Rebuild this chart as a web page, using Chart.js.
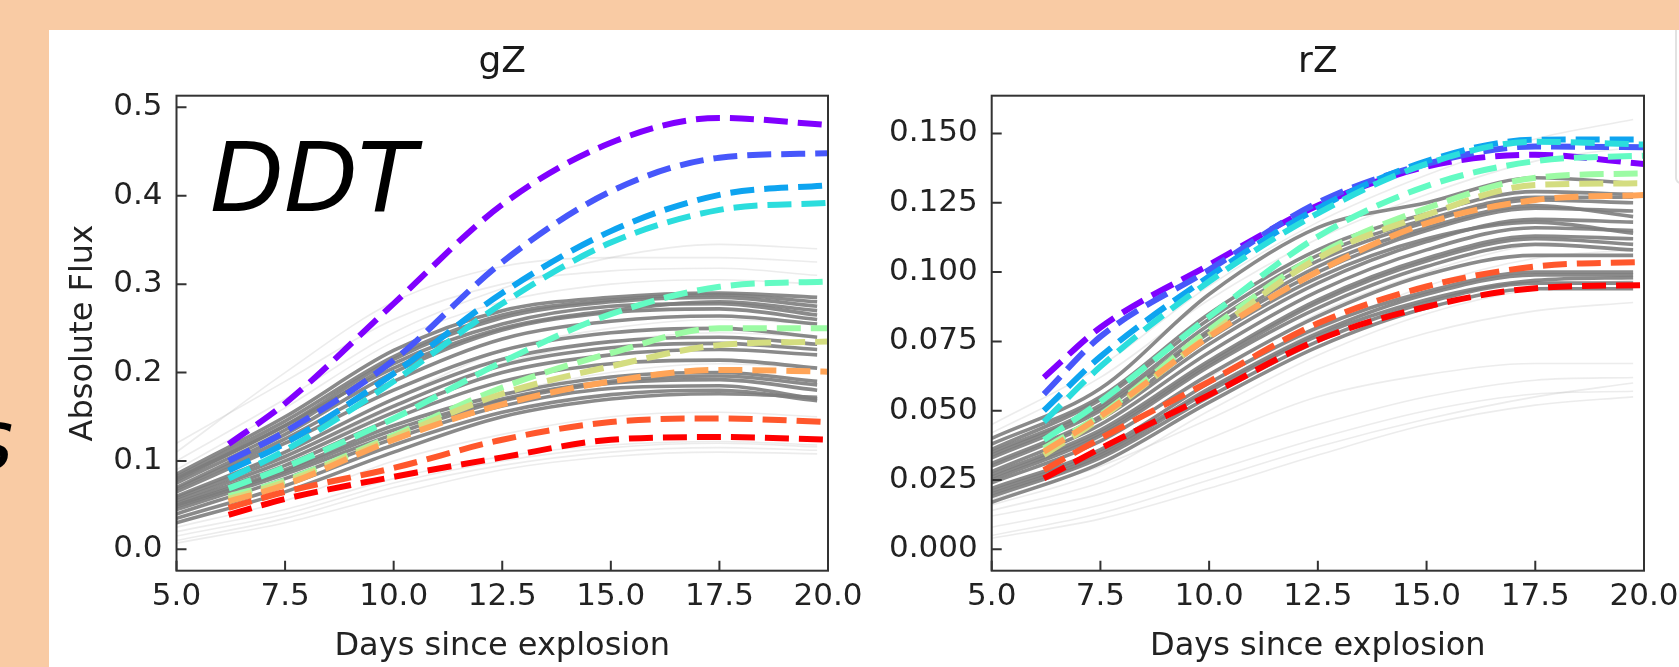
<!DOCTYPE html>
<html>
<head>
<meta charset="utf-8">
<script src="https://cdn.jsdelivr.net/npm/chart.js@4.4.0/dist/chart.umd.min.js"></script>
<style>
  html, body { margin: 0; padding: 0; }
  body { width: 1679px; height: 667px; background: #f9cba4; position: relative; overflow: hidden; font-family: 'DejaVu Sans'; }
  #panel { position: absolute; left: 49px; top: 30px; width: 1630px; height: 637px; background: #fff; overflow: hidden; }
  #legendEdge { position: absolute; left: 1626px; top: -10px; width: 40px; height: 160px; border: 2px solid #e2e2e2; border-radius: 6px; }
  .box { position: absolute; top: 0; height: 667px; }
  #gBox { left: 0; width: 900px; }
  #rBox { left: 850px; width: 829px; }
  #ddt { position: absolute; left: 210px; top: 130px; font: italic 96px/96px 'DejaVu Sans'; color: #000; }
  #cut { position: absolute; left: -31px; top: 398px; font: italic 85px/85px 'DejaVu Sans'; color: #000; }
</style>
</head>
<body>
<div id="panel"><div id="legendEdge"></div></div>
<div class="box" id="gBox"><canvas id="gChart"></canvas></div>
<div class="box" id="rBox"><canvas id="rChart"></canvas></div>
<div id="ddt">DDT</div>
<div id="cut">s</div>

<script>
// x values
const dayGray  = [5, 7.5, 10, 12.5, 15, 17.5, 19.75];
const dayModel = [6.2, 7.5, 10, 12.5, 15, 17.5, 20];
const dayTicks = [5, 7.5, 10, 12.5, 15, 17.5, 20];

// tick values
const gTicks = [0, 0.1, 0.2, 0.3, 0.4, 0.5];
const rTicks = [0, 0.025, 0.05, 0.075, 0.1, 0.125, 0.15];

// rainbow colours of the model curves
const modelColors = ['#8000ff', '#4757fb', '#0ea4f0', '#2bdddd', '#63fbc3', '#9cfba4', '#d4dd80', '#ffa457', '#ff572c', '#ff0000'];

// gZ model curves (dashed)
const gModels = [
  [0.119, 0.165, 0.278, 0.390, 0.460, 0.488, 0.480],
  [0.100, 0.133, 0.214, 0.325, 0.405, 0.443, 0.448],
  [0.089, 0.120, 0.199, 0.290, 0.360, 0.401, 0.412],
  [0.080, 0.112, 0.190, 0.278, 0.347, 0.384, 0.392],
  [0.069, 0.093, 0.148, 0.212, 0.266, 0.297, 0.303],
  [0.060, 0.078, 0.129, 0.183, 0.222, 0.250, 0.250],
  [0.057, 0.076, 0.127, 0.176, 0.207, 0.231, 0.235],
  [0.054, 0.073, 0.124, 0.164, 0.190, 0.203, 0.201],
  [0.047, 0.065, 0.092, 0.124, 0.144, 0.148, 0.144],
  [0.039, 0.057, 0.082, 0.104, 0.124, 0.127, 0.124]
];

// gZ observed light curves, dense dark bundle
const gDark = [
  [0.085, 0.150, 0.225, 0.270, 0.285, 0.290, 0.285],
  [0.080, 0.140, 0.215, 0.262, 0.280, 0.285, 0.275],
  [0.075, 0.135, 0.210, 0.255, 0.275, 0.278, 0.265],
  [0.070, 0.130, 0.200, 0.248, 0.268, 0.272, 0.260],
  [0.078, 0.140, 0.205, 0.250, 0.270, 0.280, 0.270],
  [0.065, 0.120, 0.180, 0.225, 0.245, 0.250, 0.240],
  [0.060, 0.110, 0.170, 0.215, 0.235, 0.240, 0.232],
  [0.055, 0.100, 0.155, 0.200, 0.220, 0.226, 0.220],
  [0.050, 0.090, 0.140, 0.175, 0.195, 0.200, 0.190],
  [0.045, 0.085, 0.130, 0.168, 0.188, 0.192, 0.180],
  [0.040, 0.080, 0.125, 0.162, 0.182, 0.185, 0.170],
  [0.035, 0.072, 0.118, 0.155, 0.175, 0.180, 0.168],
  [0.048, 0.088, 0.135, 0.170, 0.190, 0.196, 0.186],
  [0.030, 0.065, 0.110, 0.150, 0.170, 0.176, 0.172],
  [0.068, 0.125, 0.190, 0.238, 0.258, 0.264, 0.255],
  [0.058, 0.105, 0.162, 0.208, 0.228, 0.233, 0.226],
  [0.052, 0.095, 0.148, 0.190, 0.210, 0.214, 0.205],
  [0.082, 0.145, 0.218, 0.265, 0.282, 0.288, 0.280]
];

// gZ faint curves
const gLight = [
  [0.120, 0.190, 0.260, 0.300, 0.315, 0.318, 0.310],
  [0.100, 0.170, 0.245, 0.295, 0.330, 0.345, 0.340],
  [0.090, 0.160, 0.235, 0.280, 0.300, 0.305, 0.300],
  [0.020, 0.045, 0.080, 0.105, 0.118, 0.122, 0.118],
  [0.010, 0.035, 0.070, 0.095, 0.110, 0.115, 0.112],
  [0.015, 0.040, 0.075, 0.100, 0.115, 0.120, 0.116],
  [0.007, 0.030, 0.062, 0.090, 0.105, 0.110, 0.108],
  [0.050, 0.100, 0.160, 0.210, 0.235, 0.245, 0.240],
  [0.060, 0.110, 0.170, 0.225, 0.250, 0.260, 0.255],
  [0.040, 0.080, 0.130, 0.175, 0.200, 0.210, 0.205],
  [0.025, 0.055, 0.100, 0.130, 0.150, 0.155, 0.150],
  [0.110, 0.200, 0.280, 0.320, 0.330, 0.330, 0.325]
];

// rZ model curves (dashed)
const rModels = [
  [0.0620, 0.0800, 0.1026, 0.1240, 0.1380, 0.1423, 0.1390],
  [0.0560, 0.0767, 0.1008, 0.1250, 0.1390, 0.1453, 0.1450],
  [0.0500, 0.0695, 0.0984, 0.1230, 0.1400, 0.1477, 0.1478],
  [0.0460, 0.0659, 0.0966, 0.1212, 0.1390, 0.1470, 0.1460],
  [0.0394, 0.0533, 0.0839, 0.1128, 0.1310, 0.1400, 0.1420],
  [0.0364, 0.0485, 0.0791, 0.1062, 0.1230, 0.1340, 0.1356],
  [0.0340, 0.0473, 0.0773, 0.1050, 0.1206, 0.1314, 0.1320],
  [0.0352, 0.0480, 0.0767, 0.1002, 0.1176, 0.1260, 0.1278],
  [0.0286, 0.0400, 0.0605, 0.0815, 0.0948, 0.1020, 0.1037],
  [0.0256, 0.0364, 0.0557, 0.0755, 0.0875, 0.0942, 0.0953]
];

// rZ observed light curves, dense dark bundle
const rDark = [
  [0.040, 0.058, 0.092, 0.116, 0.125, 0.134, 0.132],
  [0.038, 0.055, 0.085, 0.108, 0.121, 0.129, 0.128],
  [0.035, 0.052, 0.081, 0.104, 0.118, 0.126, 0.125],
  [0.033, 0.050, 0.078, 0.100, 0.115, 0.123, 0.122],
  [0.030, 0.047, 0.074, 0.096, 0.111, 0.119, 0.118],
  [0.028, 0.045, 0.071, 0.093, 0.108, 0.116, 0.115],
  [0.027, 0.043, 0.068, 0.090, 0.105, 0.113, 0.112],
  [0.025, 0.041, 0.066, 0.087, 0.102, 0.110, 0.108],
  [0.024, 0.039, 0.063, 0.084, 0.099, 0.106, 0.106],
  [0.022, 0.036, 0.060, 0.080, 0.093, 0.100, 0.100],
  [0.020, 0.034, 0.057, 0.077, 0.090, 0.097, 0.098],
  [0.019, 0.033, 0.055, 0.075, 0.089, 0.096, 0.096],
  [0.017, 0.031, 0.053, 0.073, 0.087, 0.094, 0.094],
  [0.031, 0.048, 0.076, 0.098, 0.112, 0.118, 0.114],
  [0.036, 0.054, 0.083, 0.106, 0.119, 0.127, 0.127],
  [0.026, 0.042, 0.067, 0.089, 0.104, 0.112, 0.110],
  [0.021, 0.035, 0.058, 0.078, 0.092, 0.099, 0.099],
  [0.034, 0.051, 0.079, 0.102, 0.116, 0.124, 0.120]
];

// rZ faint curves
const rLight = [
  [0.012, 0.020, 0.033, 0.045, 0.055, 0.061, 0.062],
  [0.008, 0.016, 0.028, 0.040, 0.050, 0.056, 0.057],
  [0.005, 0.013, 0.025, 0.037, 0.047, 0.055, 0.060],
  [0.014, 0.024, 0.040, 0.055, 0.063, 0.067, 0.067],
  [0.004, 0.011, 0.022, 0.034, 0.045, 0.052, 0.055],
  [0.018, 0.030, 0.047, 0.065, 0.078, 0.086, 0.089],
  [0.045, 0.066, 0.095, 0.118, 0.135, 0.148, 0.155],
  [0.042, 0.062, 0.090, 0.112, 0.128, 0.140, 0.145],
  [0.025, 0.040, 0.062, 0.085, 0.100, 0.110, 0.112],
  [0.020, 0.034, 0.058, 0.079, 0.095, 0.105, 0.108],
  [0.016, 0.028, 0.050, 0.070, 0.085, 0.094, 0.097]
];

Chart.defaults.font.family = "'DejaVu Sans'";

function toPoints(days, vals){ return vals.map((v, i) => ({x: days[i], y: v})); }

function makeSets(models, dark, light){
  var sets = [];
  models.forEach((vals, i) => sets.push({
    data: toPoints(dayModel, vals), borderColor: modelColors[i],
    borderWidth: 6, borderDash: [24, 10], order: 20 - i
  }));
  dark.forEach(vals => sets.push({
    data: toPoints(dayGray, vals), borderColor: 'rgba(125,125,125,0.9)', borderWidth: 3.6, order: 50
  }));
  light.forEach(vals => sets.push({
    data: toPoints(dayGray, vals), borderColor: 'rgba(150,150,150,0.18)', borderWidth: 1.6, order: 80
  }));
  return sets;
}

// box around the axes + inward ticks
const frame = {
  id: 'frame',
  afterDatasetsDraw(chart){
    const {ctx, chartArea: a, scales} = chart;
    ctx.save();
    ctx.strokeStyle = '#333';
    ctx.lineWidth = 2;
    ctx.strokeRect(a.left, a.top, a.right - a.left, a.bottom - a.top);
    ctx.beginPath();
    scales.x.ticks.forEach(t => {
      const px = scales.x.getPixelForValue(t.value);
      ctx.moveTo(px, a.bottom); ctx.lineTo(px, a.bottom - 10);
    });
    scales.y.ticks.forEach(t => {
      const py = scales.y.getPixelForValue(t.value);
      ctx.moveTo(a.left, py); ctx.lineTo(a.left + 10, py);
    });
    ctx.stroke();
    ctx.restore();
  }
};

function makeChart(id, models, dark, light, cfg){
  return new Chart(document.getElementById(id), {
    type: 'line',
    data: {datasets: makeSets(models, dark, light)},
    options: {
      animation: false, responsive: true, maintainAspectRatio: false,
      layout: {padding: {left: cfg.padLeft, right: cfg.padRight, top: 0, bottom: 4}},
      elements: {point: {radius: 0}, line: {cubicInterpolationMode: 'monotone', fill: false}},
      plugins: {
        legend: {display: false}, tooltip: {enabled: false},
        title: {display: true, text: cfg.title, fullSize: false, color: '#1a1a1a',
                font: {size: 36, weight: 'normal', lineHeight: 1}, padding: {top: 44.9, bottom: 14.8}}
      },
      scales: {
        x: {
          type: 'linear', min: 5, max: 20,
          afterBuildTicks: s => { s.ticks = dayTicks.map(v => ({value: v})); },
          ticks: {callback: v => v.toFixed(1), padding: 11, color: '#222', autoSkip: false, maxRotation: 0,
                  font: {size: 31, lineHeight: 1}},
          grid: {display: false, drawTicks: false}, border: {display: false},
          title: {display: true, text: 'Days since explosion', color: '#222',
                  font: {size: 32, lineHeight: 1}, padding: {top: 0, bottom: 0}},
          afterFit: s => { s.height = 92.3; s.paddingLeft = 0; s.paddingRight = 0; }
        },
        y: {
          type: 'linear', min: cfg.yMin, max: cfg.yMax,
          afterBuildTicks: s => { s.ticks = cfg.ticks.map(v => ({value: v})); },
          ticks: {callback: v => v.toFixed(cfg.digits), padding: 14, color: '#222', font: {size: 31, lineHeight: 1}},
          grid: {display: false, drawTicks: false}, border: {display: false},
          title: {display: !!cfg.yTitle, text: cfg.yTitle || '', color: '#222',
                  font: {size: 32, lineHeight: 1}, padding: {top: 0, bottom: 0}},
          afterFit: s => { s.width = cfg.yWidth; s.paddingTop = 0; s.paddingBottom = 0; }
        }
      }
    },
    plugins: [frame]
  });
}

makeChart('gChart', gModels, gDark, gLight, {
  title: 'gZ', yTitle: 'Absolute Flux', yMin: -0.0242, yMax: 0.5132, ticks: gTicks, digits: 1,
  padLeft: 67.6, yWidth: 108.9, padRight: 72
});
makeChart('rChart', rModels, rDark, rLight, {
  title: 'rZ', yMin: -0.0077, yMax: 0.1636, ticks: rTicks, digits: 3,
  padLeft: 11.7, yWidth: 130, padRight: 35
});
</script>
</body>
</html>
